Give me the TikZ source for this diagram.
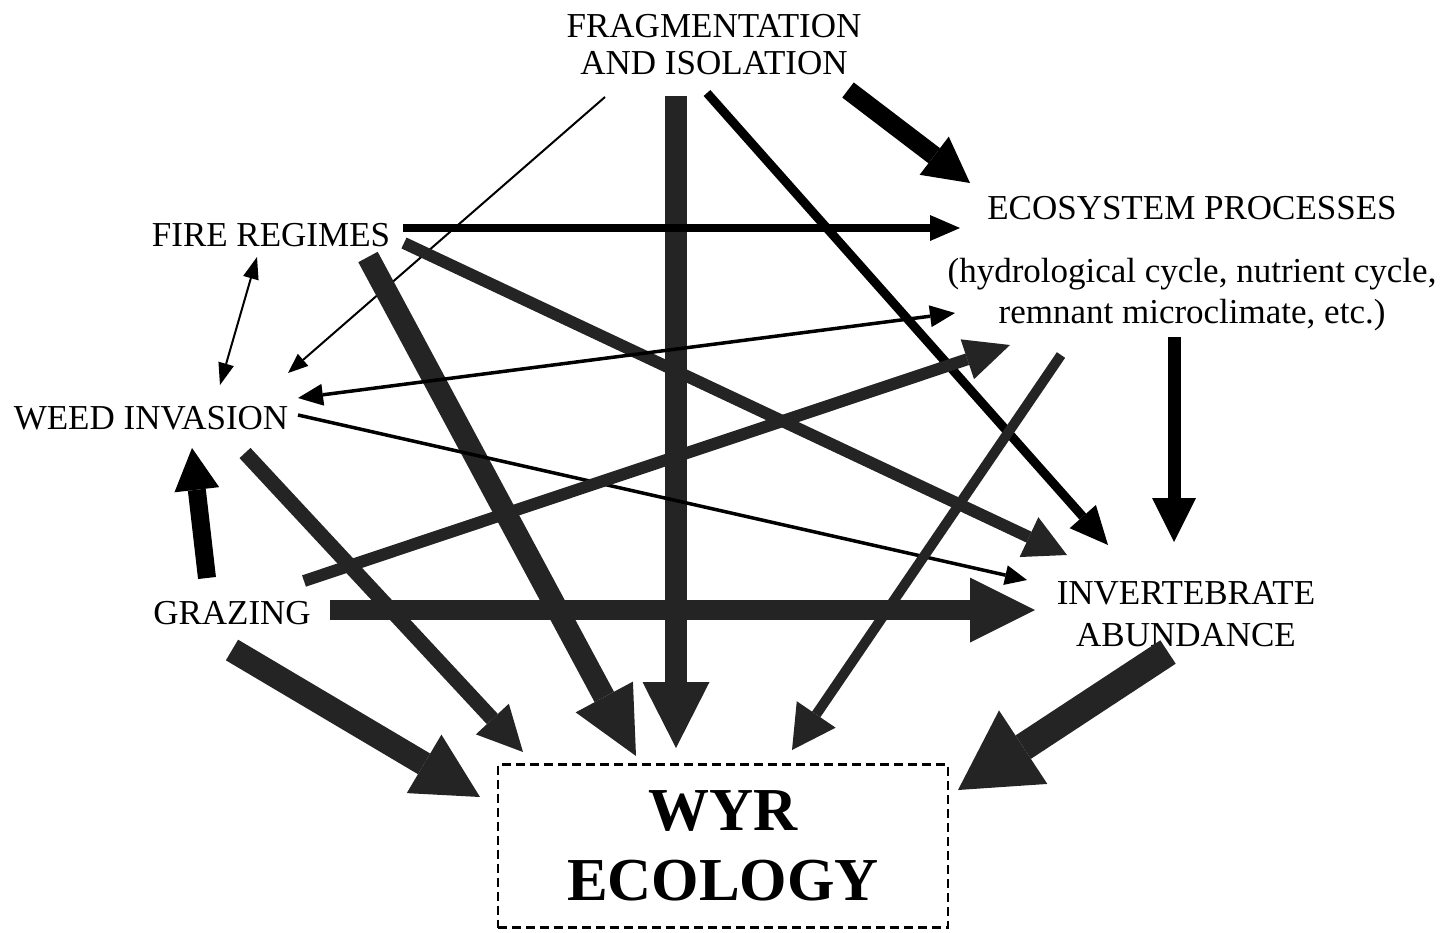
\documentclass[tikz,border=0pt]{standalone}
\usepackage{fontspec}
\setmainfont{Liberation Serif}
\usetikzlibrary{arrows.meta,calc}

\begin{document}
\begin{tikzpicture}[x=1pt,y=-1pt,
  lbl/.style={inner sep=0pt,align=center,font=\fontsize{35}{37}\selectfont},
  link/.style n args={3}{line width=#1,-{Triangle[width=#2,length=#3,line width=0pt]}},
  twoway/.style n args={3}{line width=#1,{Triangle[width=#2,length=#3,line width=0pt]}-{Triangle[width=#2,length=#3,line width=0pt]}},
  grain/.style={black!86}]

\useasboundingbox (0,0) rectangle (1446,932);

% factors
\node[lbl] (frag) at (714,45) {FRAGMENTATION\\AND ISOLATION};
\node[lbl] (fire) at (271,235) {FIRE REGIMES};
\node[lbl] (eco) at (1192,208) {ECOSYSTEM PROCESSES};
\node[lbl,font=\fontsize{35}{41}\selectfont] (ecosub) at (1192,295)
  {(hydrological cycle, nutrient cycle,\\remnant microclimate, etc.)};
\node[lbl] (weed) at (151,418) {WEED INVASION};
\node[lbl] (graz) at (232,613) {GRAZING};
\node[lbl,font=\fontsize{35}{42}\selectfont] (inv) at (1186,614) {INVERTEBRATE\\ABUNDANCE};

% outcome box
\node[draw,line width=2.5pt,dash pattern=on 9pt off 5pt,minimum width=450pt,minimum height=163pt,
  align=center,font=\bfseries\fontsize{61}{70}\selectfont] (wyr) at (723,846) {WYR\\ECOLOGY};

% from fragmentation
\draw[link={2pt}{16pt}{20pt}] ($(frag)+(-109,52)$) -- ($(weed)+(137,-45)$);
\draw[link={22pt}{67pt}{66pt},grain] ($(frag)+(-38,51)$) -- ($(wyr)+(-47,-98)$);
\draw[link={9pt}{35pt}{38pt}] ($(frag)+(-7,48)$) -- ($(inv)+(-78,-69)$);
\draw[link={19pt}{48pt}{45pt}] ($(frag)+(134,45)$) -- ($(eco)+(-222,-25)$);

% from fire regimes
\draw[link={8pt}{26pt}{30pt}] ($(fire)+(132,-7)$) -- ($(eco)+(-232,20)$);
\draw[twoway={2pt}{16pt}{22pt}] ($(fire)+(-14,22)$) -- ($(weed)+(69,-33)$);
\draw[link={22pt}{65pt}{67pt},grain] ($(fire)+(97,22)$) -- ($(wyr)+(-87,-90)$);
\draw[link={12pt}{44pt}{42pt},grain] ($(fire)+(133,8)$) -- ($(inv)+(-119,-59)$);

% from weed invasion
\draw[twoway={3.5pt}{22pt}{25pt}] ($(weed)+(147,-20)$) -- ($(ecosub)+(-237,18)$);
\draw[link={3.5pt}{20pt}{22pt}] ($(weed)+(147,-3)$) -- ($(inv)+(-159,-34)$);
\draw[link={15pt}{45pt}{45pt},grain] ($(weed)+(94,35)$) -- ($(wyr)+(-200,-94)$);

% from grazing
\draw[link={18pt}{45pt}{42pt}] ($(graz)+(-25,-35)$) -- ($(weed)+(41,30)$);
\draw[link={12pt}{42pt}{45pt},grain] ($(graz)+(72,-32)$) -- ($(ecosub)+(-182,50)$);
\draw[link={20pt}{65pt}{65pt},grain] ($(graz)+(98,-3)$) -- ($(inv)+(-151,-4)$);
\draw[link={24pt}{68pt}{65pt},grain] ($(graz)+(0,37)$) -- ($(wyr)+(-243,-49)$);

% from ecosystem processes and invertebrates
\draw[link={10pt}{47pt}{43pt},grain] ($(ecosub)+(-131,60)$) -- ($(wyr)+(69,-96)$);
\draw[link={13pt}{44pt}{44pt}] ($(ecosub)+(-18,42)$) -- ($(inv)+(-12,-72)$);
\draw[link={28pt}{88pt}{78pt},grain] ($(inv)+(-18,38)$) -- ($(wyr)+(235,-56)$);

\end{tikzpicture}
\end{document}
